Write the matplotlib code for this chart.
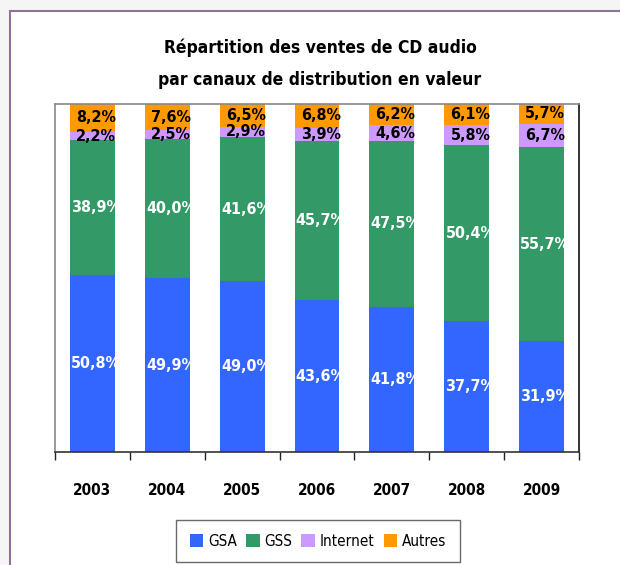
import matplotlib
matplotlib.use("Agg")
import matplotlib.pyplot as plt
from matplotlib.patches import Rectangle, Patch
import numpy as np

years = ["2003", "2004", "2005", "2006", "2007", "2008", "2009"]
gsa = [50.8, 49.9, 49.0, 43.6, 41.8, 37.7, 31.9]
gss = [38.9, 40.0, 41.6, 45.7, 47.5, 50.4, 55.7]
internet = [2.2, 2.5, 2.9, 3.9, 4.6, 5.8, 6.7]
autres = [8.2, 7.6, 6.5, 6.8, 6.2, 6.1, 5.7]

series = [("GSA", gsa, "#3366ff", "white"),
          ("GSS", gss, "#339966", "white"),
          ("Internet", internet, "#cc99ff", "black"),
          ("Autres", autres, "#ff9900", "black")]

plt.rcParams["font.family"] = ["DejaVu Sans"]
plt.rcParams["font.stretch"] = "condensed"

fig = plt.figure(figsize=(6.2, 5.65), dpi=100, facecolor="#f5f5f5")
# outer frame
fig.patches.append(Rectangle((10 / 620, -0.1), 1.2, 1 - 11 / 565 + 0.1,
                             transform=fig.transFigure, facecolor="white",
                             edgecolor="#8e7299", lw=1.5, zorder=-5))

ax = fig.add_axes([55 / 620, 113 / 565, 524 / 620, 348 / 565])
ax.set_zorder(2)
x = np.arange(len(years))
bottom = np.zeros(len(years))
for name, vals, color, tcol in series:
    vals = np.array(vals)
    ax.bar(x, vals, 0.6, bottom=bottom, color=color, label=name)
    for xi, b, v in zip(x, bottom, vals):
        ax.text(xi + 0.05, b + v / 2, f"{v:.1f}%".replace(".", ","),
                ha="center", va="center", color=tcol, fontsize=11.5,
                fontweight="bold")
    bottom += vals

ax.set_xlim(-0.5, len(years) - 0.5)
ax.set_ylim(0, 100)
ax.set_yticks([])
ax.set_xticks(np.arange(-0.5, len(years)), [""] * (len(years) + 1))
ax.tick_params(axis="x", which="major", length=6, width=1, color="#222222")
ax.set_xticks(x, years, minor=True)
ax.tick_params(axis="x", which="minor", length=0, pad=22, labelsize=11)
for lbl in ax.get_xticklabels(minor=True):
    lbl.set_fontweight("bold")
ax.spines["left"].set_color("#888888")
ax.spines["top"].set_color("#888888")
ax.spines["right"].set_color("#111111")
ax.spines["bottom"].set_color("#333333")
for s in ax.spines.values():
    s.set_linewidth(1.2)

fig.text(0.516, 1 - 64 / 565, "Répartition des ventes de CD audio\npar canaux de distribution en valeur",
         ha="center", va="center", fontsize=12.5, fontweight="bold", linespacing=2.0)

handles = [Patch(facecolor=c, label=n) for n, _, c, _ in series]
fig.legend(handles=handles, loc="center", bbox_to_anchor=(318 / 620, 1 - 541 / 565),
           ncol=4, frameon=True, fancybox=False, edgecolor="#444444",
           fontsize=11, handlelength=0.9, handleheight=0.9, handletextpad=0.3,
           columnspacing=0.6, borderpad=0.9)

fig.savefig("out.png", dpi=100, facecolor=fig.get_facecolor())
